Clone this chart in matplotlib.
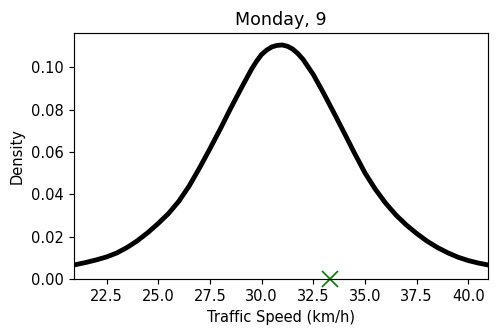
import matplotlib
matplotlib.use("Agg")
import matplotlib.pyplot as plt

speed = [20.92, 21.5, 22.0, 22.5, 23.0, 23.5, 24.0, 24.5, 25.0, 25.5, 26.0, 26.5,
         27.0, 27.5, 28.0, 28.5, 29.0, 29.5, 29.75, 30.0, 30.25, 30.5, 30.75, 31.0,
         31.25, 31.5, 31.75, 32.0, 32.5, 33.0, 33.5, 34.0, 34.5, 35.0, 35.5, 36.0,
         36.5, 37.0, 37.5, 38.0, 38.5, 39.0, 39.5, 40.0, 40.5, 40.97]
density = [0.0067, 0.0079, 0.0091, 0.0105, 0.0124, 0.0150, 0.0182, 0.0220, 0.0263,
           0.0310, 0.0368, 0.0440, 0.0525, 0.0615, 0.0708, 0.0805, 0.0898, 0.0988,
           0.1027, 0.1060, 0.1081, 0.1096, 0.1103, 0.1105, 0.1099, 0.1086, 0.1065,
           0.1038, 0.0966, 0.0878, 0.0785, 0.0690, 0.0594, 0.0502, 0.0425, 0.0359,
           0.0303, 0.0256, 0.0216, 0.0180, 0.0150, 0.0125, 0.0104, 0.0088, 0.0076,
           0.0067]
marker_speed = [33.3]
marker_density = [0.0]
title = "Monday, 9"

DPI = 105
fig = plt.figure(figsize=(499 / DPI, 336 / DPI), dpi=DPI)
ax = fig.add_axes([0.148, 0.169, 0.8306, 0.732])
ax.plot(speed, density, color="black", lw=3.3, solid_joinstyle="round")
ax.plot(marker_speed, marker_density, "x", color="green", markersize=11.5,
        mew=1.15, clip_on=False)
ax.set_xlim(speed[0], speed[-1])
ax.set_ylim(bottom=0)
ax.set_title(title)
ax.set_xlabel("Traffic Speed (km/h)")
ax.set_ylabel("Density")
fig.savefig("out.png", dpi=DPI)
